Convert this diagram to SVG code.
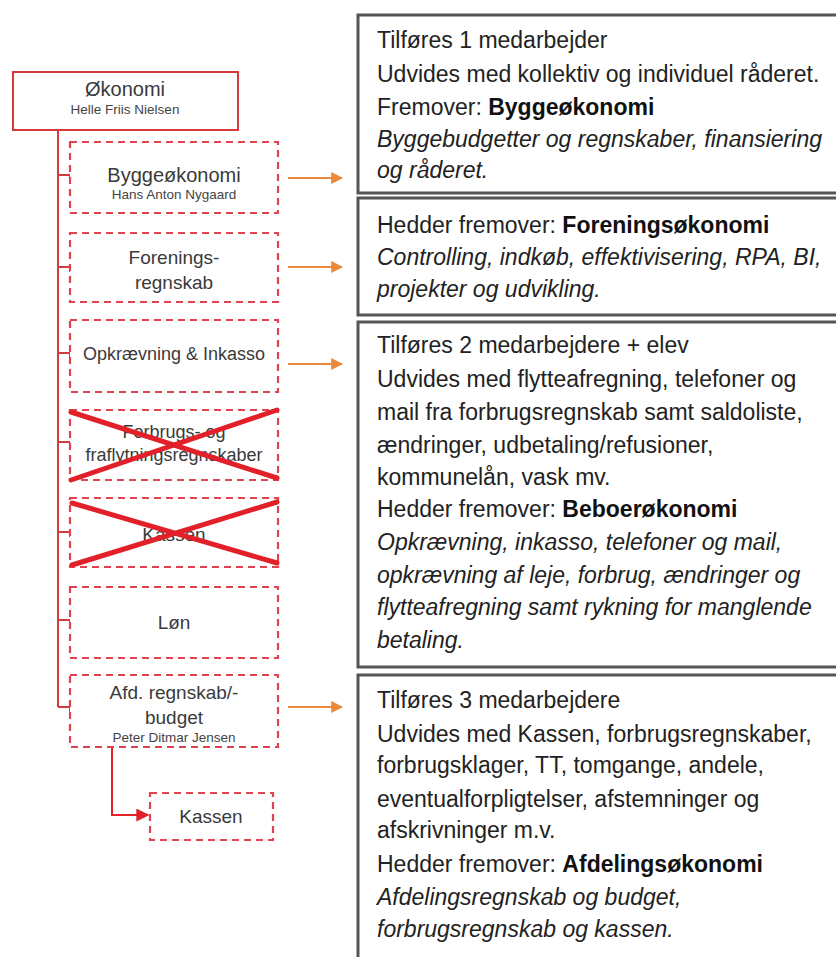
<svg xmlns="http://www.w3.org/2000/svg" width="836" height="957" viewBox="0 0 836 957">
<style>
.bg{fill:#ffffff}
.org{fill:#fff;stroke:#d8393c;stroke-width:2}
.dash{fill:#fff;stroke:#e0434f;stroke-width:2.2;stroke-dasharray:7 5}
.tree{fill:none;stroke:#d33b3e;stroke-width:2}
.lbl{font-family:"Liberation Sans",Arial,sans-serif;fill:#3a3a3a;text-anchor:middle}
.big{font-size:19px}
.mid{font-size:18px}
.sub{font-size:13.5px;fill:#444}
.cross{stroke:#e2202a;stroke-width:5;stroke-linecap:round}
.note{fill:#fff;stroke:#555;stroke-width:3}
.txt{font-family:"Liberation Sans",Arial,sans-serif;font-size:23px;fill:#222}
.it{font-style:italic}
.b{font-weight:bold;fill:#111}
.oarrow{stroke:#e8893c;stroke-width:2;fill:none}
</style>
<defs>
<marker id="ah-o" viewBox="0 0 10 10" refX="9" refY="5" markerWidth="12" markerHeight="12" markerUnits="userSpaceOnUse" orient="auto"><path d="M0,0 L10,5 L0,10 Z" fill="#e8893c"/></marker>
<marker id="ah-r" viewBox="0 0 10 10" refX="9" refY="5" markerWidth="13" markerHeight="13" markerUnits="userSpaceOnUse" orient="auto"><path d="M0,0 L10,5 L0,10 Z" fill="#e2202a"/></marker>
</defs>
<rect class="bg" x="0" y="0" width="836" height="957"/>

<g id="connectors">
<path class="tree" d="M58,130 V707"/>
<path class="tree" d="M58,175 H70 V180 M58,267 H70 V272 M58,353 H70 V358 M58,442 H70 V447 M58,532 H70 V537 M58,620 H70 V625 M58,707 H70 V712"/>
<path d="M112,747 V815 H148" fill="none" stroke="#e2202a" stroke-width="2" marker-end="url(#ah-r)"/>
<line class="oarrow" x1="288" y1="178" x2="342" y2="178" marker-end="url(#ah-o)"/>
<line class="oarrow" x1="288" y1="267" x2="342" y2="267" marker-end="url(#ah-o)"/>
<line class="oarrow" x1="288" y1="364" x2="342" y2="364" marker-end="url(#ah-o)"/>
<line class="oarrow" x1="288" y1="707" x2="342" y2="707" marker-end="url(#ah-o)"/>
</g>

<g id="okonomi">
<rect class="org" x="13" y="72" width="225" height="58"/>
<text class="lbl" x="125" y="96" font-size="20">Økonomi</text>
<text class="lbl sub" x="125" y="114">Helle Friis Nielsen</text>
</g>

<g id="byggeokonomi">
<rect class="dash" x="70" y="142" width="208" height="71"/>
<text class="lbl" x="174" y="182" font-size="20">Byggeøkonomi</text>
<text class="lbl sub" x="174" y="199">Hans Anton Nygaard</text>
</g>

<g id="foreningsregnskab">
<rect class="dash" x="70" y="233" width="208" height="69"/>
<text class="lbl big" x="174" y="264">Forenings-</text>
<text class="lbl big" x="174" y="289">regnskab</text>
</g>

<g id="opkraevning">
<rect class="dash" x="70" y="320" width="208" height="72"/>
<text class="lbl mid" x="174" y="360">Opkrævning &amp; Inkasso</text>
</g>

<g id="forbrugs">
<rect class="dash" x="70" y="410" width="208" height="70"/>
<text class="lbl mid" x="174" y="438">Forbrugs- og</text>
<text class="lbl mid" x="174" y="461">fraflytningsregnskaber</text>
<line class="cross" x1="71" y1="412" x2="277" y2="478"/>
<line class="cross" x1="71" y1="480" x2="277" y2="410"/>
</g>

<g id="kassen-old">
<rect class="dash" x="70" y="498" width="208" height="69"/>
<text class="lbl big" x="174" y="541">Kassen</text>
<line class="cross" x1="72" y1="503" x2="277" y2="563"/>
<line class="cross" x1="72" y1="565" x2="277" y2="502"/>
</g>

<g id="lon">
<rect class="dash" x="70" y="587" width="208" height="71"/>
<text class="lbl big" x="174" y="629">Løn</text>
</g>

<g id="afd">
<rect class="dash" x="70" y="675" width="208" height="72"/>
<text class="lbl big" x="174" y="699">Afd. regnskab/-</text>
<text class="lbl big" x="174" y="724">budget</text>
<text class="lbl sub" x="174" y="742">Peter Ditmar Jensen</text>
</g>

<g id="kassen">
<rect class="dash" x="150" y="793" width="123" height="47"/>
<text class="lbl big" x="211" y="823">Kassen</text>
</g>

<g id="note-bygge">
<rect class="note" x="358" y="15" width="490" height="178"/>
<text class="txt" x="377" y="48">Tilføres 1 medarbejder</text>
<text class="txt" x="377" y="82">Udvides med kollektiv og individuel råderet.</text>
<text class="txt" x="377" y="115">Fremover: <tspan class="b">Byggeøkonomi</tspan></text>
<text class="txt it" x="377" y="147">Byggebudgetter og regnskaber, finansiering</text>
<text class="txt it" x="377" y="178">og råderet.</text>
</g>

<g id="note-forening">
<rect class="note" x="358" y="198" width="490" height="117"/>
<text class="txt" x="377" y="233">Hedder fremover: <tspan class="b">Foreningsøkonomi</tspan></text>
<text class="txt it" x="377" y="265">Controlling, indkøb, effektivisering, RPA, BI,</text>
<text class="txt it" x="377" y="297">projekter og udvikling.</text>
</g>

<g id="note-beboer">
<rect class="note" x="358" y="322" width="490" height="345"/>
<text class="txt" x="377" y="353">Tilføres 2 medarbejdere + elev</text>
<text class="txt" x="377" y="387">Udvides med flytteafregning, telefoner og</text>
<text class="txt" x="377" y="420">mail fra forbrugsregnskab samt saldoliste,</text>
<text class="txt" x="377" y="453">ændringer, udbetaling/refusioner,</text>
<text class="txt" x="377" y="485">kommunelån, vask mv.</text>
<text class="txt" x="377" y="517">Hedder fremover: <tspan class="b">Beboerøkonomi</tspan></text>
<text class="txt it" x="377" y="550">Opkrævning, inkasso, telefoner og mail,</text>
<text class="txt it" x="377" y="583">opkrævning af leje, forbrug, ændringer og</text>
<text class="txt it" x="377" y="615">flytteafregning samt rykning for manglende</text>
<text class="txt it" x="377" y="648">betaling.</text>
</g>

<g id="note-afdeling">
<rect class="note" x="358" y="675" width="490" height="300"/>
<text class="txt" x="377" y="708">Tilføres 3 medarbejdere</text>
<text class="txt" x="377" y="742">Udvides med Kassen, forbrugsregnskaber,</text>
<text class="txt" x="377" y="773">forbrugsklager, TT, tomgange, andele,</text>
<text class="txt" x="377" y="807">eventualforpligtelser, afstemninger og</text>
<text class="txt" x="377" y="838">afskrivninger m.v.</text>
<text class="txt" x="377" y="872">Hedder fremover: <tspan class="b">Afdelingsøkonomi</tspan></text>
<text class="txt it" x="377" y="905">Afdelingsregnskab og budget,</text>
<text class="txt it" x="377" y="937">forbrugsregnskab og kassen.</text>
</g>
</svg>
